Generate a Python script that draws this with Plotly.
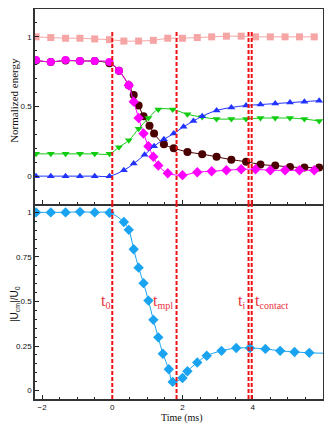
import plotly.graph_objects as go
from plotly.subplots import make_subplots

# time axis (ms) of the coarse samples
t_coarse = [-2.17, -1.75, -1.33, -0.92, -0.5, -0.08, 0.33, 0.75, 1.17, 1.58,
            2.0, 2.42, 2.83, 3.25, 3.67, 4.08, 4.5, 4.92, 5.33, 5.75]
# pink squares - total energy
e_total = [1.0, 0.995, 0.99, 0.99, 0.985, 0.98, 0.97, 0.97, 0.975, 0.99,
           0.99, 0.995, 1.0, 1.005, 1.005, 1.0, 1.0, 1.0, 1.0, 1.0]

# maroon circles
t_maroon = [-2.17, -1.75, -1.33, -0.92, -0.5, -0.08, 0.19, 0.47, 0.61, 0.75, 0.89,
            1.06, 1.19, 1.47, 1.75, 2.14, 2.56, 2.97, 3.39, 3.81, 4.22, 4.64, 5.06, 5.47, 5.89]
e_maroon = [0.83, 0.82, 0.83, 0.826, 0.826, 0.81, 0.757, 0.653, 0.583, 0.507, 0.43,
            0.361, 0.306, 0.229, 0.201, 0.174, 0.158, 0.139, 0.118, 0.104, 0.083, 0.076, 0.066, 0.062, 0.062]

# magenta circles then diamonds
t_mag_c = [-2.17, -1.75, -1.33, -0.92, -0.5, -0.08, 0.19, 0.47]
e_mag_c = [0.833, 0.82, 0.833, 0.826, 0.826, 0.82, 0.757, 0.653]
t_mag_d = [0.47, 0.61, 0.75, 0.89, 1.03, 1.17, 1.31, 1.58, 2.0, 2.42, 2.83, 3.25,
           3.67, 4.08, 4.5, 4.92, 5.33, 5.75]
e_mag_d = [0.653, 0.535, 0.417, 0.306, 0.215, 0.139, 0.076, 0.021, 0.007, 0.028, 0.035, 0.042,
           0.049, 0.049, 0.042, 0.042, 0.042, 0.042]

# green down triangles
t_green = [-2.17, -1.75, -1.33, -0.92, -0.5, -0.08, 0.19, 0.47, 0.75, 1.03, 1.31,
           1.72, 2.14, 2.56, 2.97, 3.39, 3.81, 4.22, 4.64, 5.06, 5.47, 5.89]
e_green = [0.16, 0.16, 0.16, 0.16, 0.16, 0.16, 0.208, 0.257, 0.34, 0.417, 0.479,
           0.479, 0.444, 0.424, 0.41, 0.41, 0.41, 0.417, 0.417, 0.417, 0.41, 0.396]

# blue up triangles
t_blue = [-2.17, -1.75, -1.33, -0.92, -0.5, -0.08, 0.33, 0.61, 0.92, 1.19, 1.47,
          1.75, 2.03, 2.31, 2.56, 2.97, 3.39, 3.81, 4.22, 4.64, 5.06, 5.47, 5.89]
e_blue = [0.0, 0.0, 0.0, 0.0, 0.0, 0.0, 0.042, 0.09, 0.153, 0.215, 0.264,
          0.306, 0.354, 0.396, 0.43, 0.472, 0.493, 0.507, 0.514, 0.521, 0.528, 0.535, 0.542]

# bottom panel - |U_cm|/U_0
t_ucm = [-2.17, -1.75, -1.33, -0.92, -0.5, -0.08, 0.33, 0.47, 0.61, 0.75, 0.89, 1.03,
         1.17, 1.31, 1.44, 1.61, 1.72, 2.0, 2.14, 2.42, 2.69, 3.11, 3.53, 3.92, 4.36,
         4.78, 5.19, 5.61, 6.0]
u_ucm = [1.0, 1.0, 1.0, 1.003, 1.0, 0.998, 0.946, 0.902, 0.793, 0.69, 0.603, 0.505,
         0.397, 0.299, 0.207, 0.12, 0.049, 0.071, 0.109, 0.158, 0.196, 0.223, 0.239, 0.239, 0.234,
         0.223, 0.217, 0.212, 0.21]
ucm_symbols = ['diamond'] * 28 + ['line-ew']

# event times (ms)
t_events = [0.0, 1.83, 3.88, 3.97]

fig = make_subplots(rows=2, cols=1, shared_xaxes=True, vertical_spacing=0)

def add(x, y, color, symbol, size=8, row=1):
    fig.add_trace(go.Scatter(x=x, y=y, mode='lines+markers', line=dict(color=color, width=1, shape='spline'),
                             marker=dict(color=color, symbol=symbol, size=size), showlegend=False,
                             cliponaxis=True), row=row, col=1)

add(t_coarse, e_total, '#f6a5a5', 'square', 7)
add(t_maroon, e_maroon, '#4a0000', 'circle', 8)
add(t_mag_d, e_mag_d, '#ff00ff', 'diamond', 8)
add(t_mag_c, e_mag_c, '#ff00ff', 'circle', 8)
add(t_green, e_green, '#11cc11', 'triangle-down', 7)
add(t_blue, e_blue, '#2233ff', 'triangle-up', 7)
add(t_ucm, u_ucm, '#1aa3f0', ucm_symbols, 8, row=2)

# vertical red dashed event lines
for t in t_events:
    fig.add_shape(type='line', x0=t, x1=t, y0=-0.2, y1=1.05, xref='x', yref='y',
                  line=dict(color='#ee1111', width=2, dash='4px,2px'))
    fig.add_shape(type='line', x0=t, x1=t, y0=-0.047, y1=1.047, xref='x2', yref='y2',
                  line=dict(color='#ee1111', width=2, dash='4px,2px'))

red_font = dict(family='Liberation Serif', size=16, color='#e8323c')
def sub(s):
    return "<sub><span style='font-size:10px'>" + s + "</span></sub>"
labels = [(-0.02, 't' + sub('0'), 'right'), (1.79, 't' + sub('mpl'), 'right'),
          (3.84, 't' + sub('i'), 'right'), (4.02, 't' + sub('contact'), 'left')]
for x, txt, anc in labels:
    fig.add_annotation(x=x, y=0.5, xref='x2', yref='y2', text=txt, showarrow=False,
                       xanchor=anc, yanchor='middle', font=red_font)

axis_style = dict(showline=True, linecolor='#333', linewidth=1.5, mirror=True, showgrid=False,
                  zeroline=False, ticks='inside', ticklen=4, tickcolor='#222', automargin=False,
                  tickfont=dict(family='Liberation Sans', size=8, color='#111'))

fig.update_xaxes(range=[-2.2, 6], dtick=2, minor=dict(dtick=0.5, ticks='inside', ticklen=2, tickcolor='#222'),
                 **axis_style)
fig.update_xaxes(showticklabels=False, row=1, col=1)
fig.update_xaxes(mirror=False, ticklabelstandoff=0, row=2, col=1)

fig.update_yaxes(**axis_style)
fig.update_yaxes(range=[-0.2, 1.2], tickvals=[0, 0.5, 1], ticktext=['0', '0.5', '1'],
                 minor=dict(dtick=0.1, ticks='inside', ticklen=2, tickcolor='#222'), row=1, col=1)
fig.update_yaxes(range=[-0.047, 1.047], tickvals=[0, 0.25, 0.5, 0.75, 1],
                 ticktext=['0', '0.25', '0.5', '0.75', '1'],
                 minor=dict(dtick=0.05, ticks='inside', ticklen=2, tickcolor='#222'), row=2, col=1)

# axis titles placed as annotations
fig.add_annotation(x=0.51, y=0, xref='paper', yref='paper', yshift=-11, text='Time (ms)', showarrow=False,
                   xanchor='center', yanchor='top',
                   font=dict(family='Liberation Serif', size=10, color='#111'))
fig.add_annotation(x=-0.073, y=0.767, xref='paper', yref='paper', text='Normalized energy', showarrow=False,
                   textangle=-90, xanchor='center', yanchor='middle',
                   font=dict(family='Liberation Serif', size=11, color='#111'))
fig.add_annotation(x=-0.07, y=0.243, xref='paper', yref='paper',
                   text='|U' + "<sub><span style='font-size:7px'>cm</span></sub>" + '|/U'
                        + "<sub><span style='font-size:7px'>0</span></sub>",
                   showarrow=False, textangle=-90, xanchor='center', yanchor='middle',
                   font=dict(family='Liberation Sans', size=10, color='#111'))

fig.update_layout(width=316, height=416, margin=dict(l=27, r=1, t=1, b=25),
                  plot_bgcolor='white', paper_bgcolor='white')

fig.write_html("out.html", config={'responsive': False})
